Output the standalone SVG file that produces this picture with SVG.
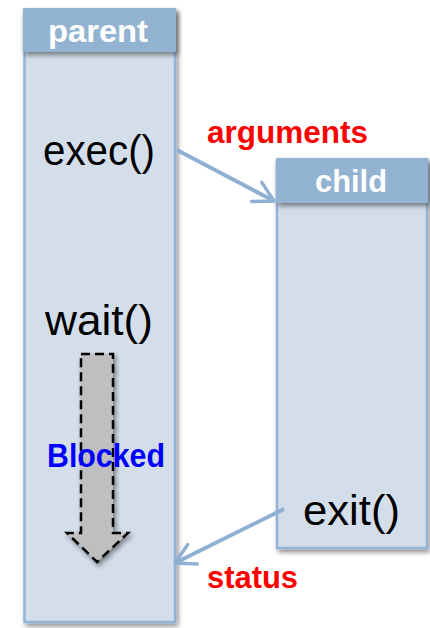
<svg xmlns="http://www.w3.org/2000/svg" width="430" height="628" viewBox="0 0 430 628">
<defs>
<filter id="sh" x="-20%" y="-20%" width="140%" height="140%">
<feGaussianBlur in="SourceAlpha" stdDeviation="2.5"/>
<feOffset dx="2" dy="3" result="b"/>
<feComponentTransfer><feFuncA type="linear" slope="0.45"/></feComponentTransfer>
<feMerge><feMergeNode/><feMergeNode in="SourceGraphic"/></feMerge>
</filter>
<marker id="chev" viewBox="0 0 12 12" refX="10" refY="6" markerWidth="6.5" markerHeight="6.5" orient="auto" markerUnits="strokeWidth">
<path d="M1,1 L10,6 L1,11" fill="none" stroke="#8FB0D2" stroke-width="1.6" stroke-linecap="round" stroke-linejoin="round"/>
</marker>
</defs>
<style>
.body{fill:#D3DEEA;stroke:#94B4D5;stroke-width:2.5}
.head{fill:#93B3D3}
.htxt{font-family:"Liberation Sans",Arial,sans-serif;font-weight:bold;font-size:32px;fill:#FFFFFF}
.call{font-family:"Liberation Sans",Arial,sans-serif;font-size:42px;fill:#000000}
.lbl{font-family:"Liberation Sans",Arial,sans-serif;font-weight:bold;font-size:32px;fill:#FF0000}
.conn{fill:none;stroke:#8FB0D2;stroke-width:4;marker-end:url(#chev)}
</style>
<g id="parent">
<rect class="body" x="24.5" y="10" width="150.5" height="612" filter="url(#sh)"/>
<rect class="head" x="23" y="8" width="153" height="44" filter="url(#sh)"/>
<text class="htxt" x="98" y="42" text-anchor="middle" textLength="100" lengthAdjust="spacingAndGlyphs">parent</text>
<text class="call" x="43" y="165" textLength="112" lengthAdjust="spacingAndGlyphs">exec()</text>
<text class="call" x="45" y="335" textLength="108" lengthAdjust="spacingAndGlyphs">wait()</text>
</g>
<g id="child">
<rect class="body" x="277" y="160" width="150" height="388" filter="url(#sh)"/>
<rect class="head" x="276" y="158" width="152" height="45" filter="url(#sh)"/>
<text class="htxt" x="351" y="192" text-anchor="middle" textLength="72" lengthAdjust="spacingAndGlyphs">child</text>
<text class="call" x="303" y="525" textLength="97" lengthAdjust="spacingAndGlyphs">exit()</text>
</g>
<g id="blocked">
<path d="M81,354 L113,354 L113,533 L128,533 L97,562 L67,533 L81,533 Z" fill="#BFBFBF" stroke="#000000" stroke-width="2.5" stroke-dasharray="9,5" filter="url(#sh)"/>
<text x="47" y="467" font-family="'Liberation Sans',Arial,sans-serif" font-weight="bold" font-size="33" fill="#0000FF" textLength="118" lengthAdjust="spacingAndGlyphs">Blocked</text>
</g>
<g id="connectors">
<line class="conn" x1="177" y1="150" x2="274" y2="201"/>
<line class="conn" x1="284" y1="509" x2="175" y2="563"/>
</g>
<g id="labels">
<text class="lbl" x="207" y="143" textLength="161" lengthAdjust="spacingAndGlyphs">arguments</text>
<text class="lbl" x="207" y="588" textLength="91" lengthAdjust="spacingAndGlyphs">status</text>
</g>
</svg>
